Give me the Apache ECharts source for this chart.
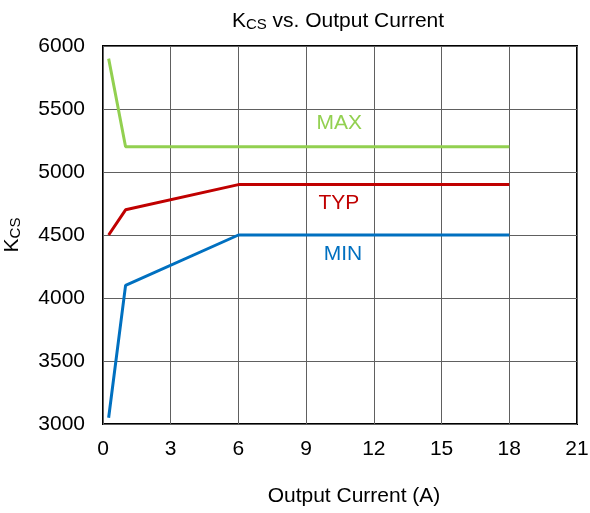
<!DOCTYPE html>
<html><head><meta charset="utf-8">
<script src="https://cdn.jsdelivr.net/npm/echarts@6/dist/echarts.min.js"></script>
<style>html,body{margin:0;padding:0;background:#fff}#c{width:590px;height:513px}</style>
</head><body><div id="c"></div>
<script>
var maxData = [[0.25, 5900], [1, 5200], [18, 5200]];
var typData = [[0.25, 4500], [1, 4700], [6, 4900], [18, 4900]];
var minData = [[0.25, 3050], [1, 4100], [6, 4500], [18, 4500]];
var seriesNames = ['MAX', 'TYP', 'MIN'];
var labelPos = [[10.47, 5385], [10.45, 4755], [10.63, 4350]];
var xTicks = [0, 3, 6, 9, 12, 15, 18, 21];
var yTicks = [3000, 3500, 4000, 4500, 5000, 5500, 6000];
var colors = ['#92D050', '#C00000', '#0070C0'];
var font = 'Liberation Sans, Arial, sans-serif';
var datasets = [maxData, typData, minData];
var chart = echarts.init(document.getElementById('c'));
chart.setOption({
  animation: false,
  title: {
    text: '{k|K}{s|CS}{k| vs. Output Current}',
    left: 333, top: 5, textAlign: 'center',
    textStyle: { rich: {
      k: { fontFamily: font, fontSize: 21, color: '#000', fontWeight: 'normal' },
      s: { fontFamily: font, fontSize: 15, color: '#000', fontWeight: 'normal', verticalAlign: 'bottom', padding: [7, 0, 0, 0] }
    } }
  },
  grid: { left: 103, right: 13, top: 46, bottom: 89, show: true, borderColor: '#000', borderWidth: 2, containLabel: false, outerBoundsMode: 'none' },
  xAxis: {
    type: 'value', min: xTicks[0], max: xTicks[xTicks.length - 1], interval: 3,
    name: 'Output Current (A)', nameLocation: 'middle', nameGap: 62,
    nameTextStyle: { fontFamily: font, fontSize: 21, color: '#000', padding: [0, 0, 0, 28] },
    axisLine: { show: false }, axisTick: { show: false },
    axisLabel: { fontFamily: font, fontSize: 21, color: '#000', margin: 15 },
    splitLine: { show: true, lineStyle: { color: '#606060', width: 1 } }
  },
  yAxis: {
    type: 'value', min: yTicks[0], max: yTicks[yTicks.length - 1], interval: 500,
    name: '{k|K}{s|CS}', nameLocation: 'middle', nameGap: 80, nameRotate: 90,
    nameTextStyle: { rich: {
      k: { fontFamily: font, fontSize: 21, color: '#000' },
      s: { fontFamily: font, fontSize: 15, color: '#000', verticalAlign: 'bottom', padding: [7, 0, 0, 0] }
    } },
    axisLine: { show: false }, axisTick: { show: false },
    axisLabel: { fontFamily: font, fontSize: 21, color: '#000', margin: 18, formatter: function (v) { return String(v); } },
    splitLine: { show: true, lineStyle: { color: '#606060', width: 1 } }
  },
  series: datasets.map(function (d, i) {
    return {
      name: seriesNames[i], type: 'line', data: d, symbol: 'none',
      lineStyle: { color: colors[i], width: 3 },
      markPoint: {
        symbol: 'circle', symbolSize: 0,
        data: [{ coord: labelPos[i], value: seriesNames[i] }],
        label: { show: true, position: 'inside', formatter: seriesNames[i], color: colors[i], fontFamily: font, fontSize: 21 }
      }
    };
  })
});
</script></body></html>
